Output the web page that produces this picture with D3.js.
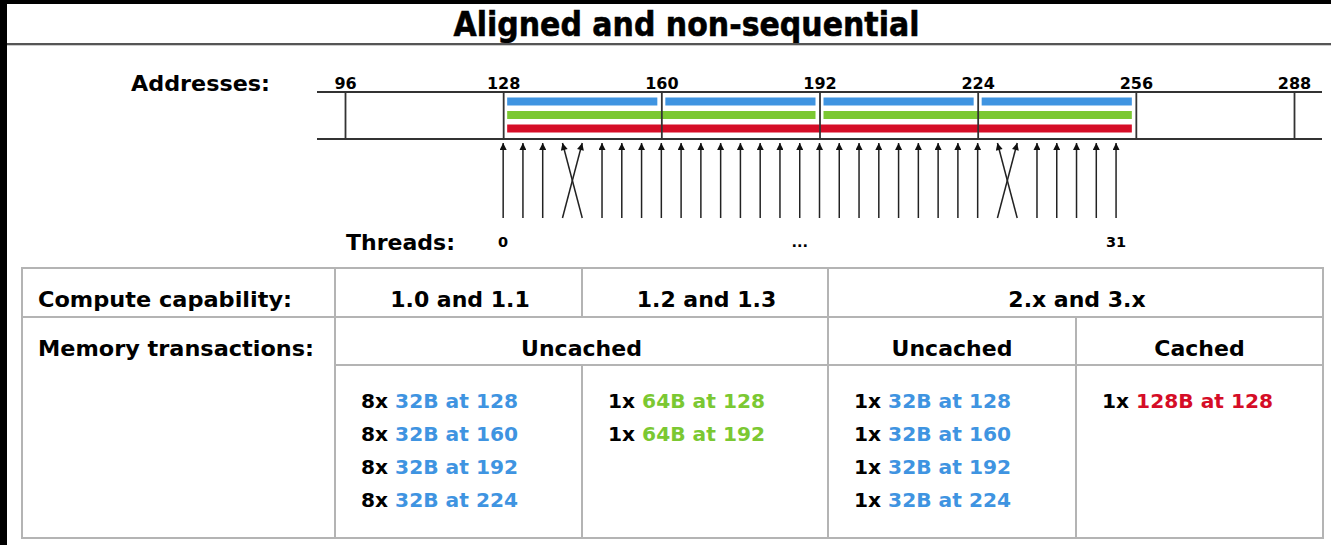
<!DOCTYPE html>
<html>
<head>
<meta charset="utf-8">
<script src="https://cdn.jsdelivr.net/npm/d3@7"></script>
<style>
  html, body { margin: 0; padding: 0; background: #fff; }
  svg { display: block; }
  text { font-family: "DejaVu Sans", Verdana, sans-serif; font-weight: bold; }
</style>
</head>
<body>
<svg id="chart" width="1331" height="545"></svg>
<script>
// ---------------- data ----------------
const title = "Aligned and non-sequential";
const addressTicks = [96, 128, 160, 192, 224, 256, 288];
const blueStarts = [128, 160, 192, 224];
const blueSize = 32;
const greenStarts = [128, 192];
const greenSize = 64;
const redStarts = [128];
const redSize = 128;
// address accessed by each of the 32 threads (3<->4 and 25<->26 swapped)
const threadAddr = [128, 132, 136, 144, 140, 148, 152, 156, 160, 164, 168, 172, 176, 180, 184, 188,
                    192, 196, 200, 204, 208, 212, 216, 220, 224, 232, 228, 236, 240, 244, 248, 252];
const threadLabelIdx = [0, 15, 31];
const threadLabelText = ["0", "...", "31"];

const rowLabels = ["Compute capability:", "Memory transactions:"];
const capabilityHeaders = ["1.0 and 1.1", "1.2 and 1.3", "2.x and 3.x"];
const cacheHeaders = ["Uncached", "Uncached", "Cached"];
const tx10Count = ["8x", "8x", "8x", "8x"];
const tx10Desc = ["32B at 128", "32B at 160", "32B at 192", "32B at 224"];
const tx12Count = ["1x", "1x"];
const tx12Desc = ["64B at 128", "64B at 192"];
const tx2uCount = ["1x", "1x", "1x", "1x"];
const tx2uDesc = ["32B at 128", "32B at 160", "32B at 192", "32B at 224"];
const tx2cCount = ["1x"];
const tx2cDesc = ["128B at 128"];

// ---------------- styles ----------------
const BLUE = "#3f94e1", GREEN = "#7bc832", RED = "#d50d27";
const sizeColor = { "32B": BLUE, "64B": GREEN, "128B": RED };
const LINE = "#333", GRID = "#b4b4b4";

const svg = d3.select("#chart");
function fit(sel, w) {
  sel.each(function () {
    const L = this.getComputedTextLength();
    if (Math.abs(L - w) / w > 0.01) d3.select(this).attr("textLength", w).attr("lengthAdjust", "spacingAndGlyphs");
  });
}

// frame
svg.append("rect").attr("x", 0).attr("y", 0).attr("width", 1331).attr("height", 545).attr("fill", "#fff");
svg.append("rect").attr("x", 0).attr("y", 0).attr("width", 7).attr("height", 545).attr("fill", "#000");
svg.append("rect").attr("x", 0).attr("y", 0).attr("width", 1331).attr("height", 4).attr("fill", "#000");

// title
const t = svg.append("text").attr("x", 686.5).attr("y", 36).attr("text-anchor", "middle")
  .attr("font-size", 34).attr("fill", "#000").attr("stroke", "#000").attr("stroke-width", 0.6).text(title);
fit(t, 466);
svg.append("line").attr("x1", 7).attr("x2", 1331).attr("y1", 44).attr("y2", 44)
  .attr("stroke", "#555").attr("stroke-width", 2);
svg.append("line").attr("x1", 7).attr("x2", 1331).attr("y1", 45.5).attr("y2", 45.5)
  .attr("stroke", "#ccc").attr("stroke-width", 1);

// ---------------- address diagram ----------------
const x = d3.scaleLinear().domain([96, 288]).range([345, 1294]);
const yTop = 92, yBot = 139;
const thread = d3.scaleLinear().domain([0, 31]).range([x(128), x(252)]);

const al = svg.append("text").attr("x", 131).attr("y", 91).attr("font-size", 21).text("Addresses:");
fit(al, 139);

// bars
function bars(starts, size, color, y) {
  svg.append("g").selectAll("rect").data(starts).join("rect")
    .attr("x", d => x(d) + 4)
    .attr("width", d => x(d + size) - x(d) - 8)
    .attr("y", y).attr("height", 8)
    .attr("fill", color);
}
bars(blueStarts, blueSize, BLUE, 97.5);
bars(greenStarts, greenSize, GREEN, 111);
bars(redStarts, redSize, RED, 124.5);

// horizontal axis lines
[yTop, yBot].forEach(yy => svg.append("line").attr("x1", 317).attr("x2", 1322).attr("y1", yy).attr("y2", yy)
  .attr("stroke", LINE).attr("stroke-width", 2));

// ticks & labels (d3 axis)
const axis = d3.axisTop(x).tickValues(addressTicks).tickSize(-(yBot - yTop)).tickPadding(3);
const ag = svg.append("g").attr("transform", `translate(0,${yTop})`).call(axis);
ag.select(".domain").remove();
ag.selectAll(".tick line").attr("stroke", LINE).attr("stroke-width", 1.8);
ag.selectAll(".tick text").attr("font-size", 16).attr("font-family", "DejaVu Sans, sans-serif")
  .attr("font-weight", "bold").attr("fill", "#000").attr("y", -3).attr("dy", 0);

// arrows
const defs = svg.append("defs");
defs.append("marker").attr("id", "ah").attr("viewBox", "0 0 10 10").attr("refX", 10).attr("refY", 5)
  .attr("markerUnits", "userSpaceOnUse").attr("markerWidth", 10).attr("markerHeight", 7)
  .attr("orient", "auto")
  .append("path").attr("d", "M0,0 L10,5 L0,10 Z").attr("fill", "#111");
svg.append("g").selectAll("line").data(threadAddr).join("line")
  .attr("x1", (d, i) => thread(i)).attr("y1", 218)
  .attr("x2", d => x(d)).attr("y2", 143)
  .attr("stroke", "#222").attr("stroke-width", 1.5)
  .attr("marker-end", "url(#ah)");

const tl = svg.append("text").attr("x", 346).attr("y", 250).attr("font-size", 22).text("Threads:");
fit(tl, 109);
svg.append("g").selectAll("text").data(threadLabelIdx).join("text")
  .attr("x", d => thread(d)).attr("y", 247).attr("text-anchor", "middle")
  .attr("font-size", 14.5).text((d, i) => threadLabelText[i]);

// ---------------- table ----------------
const colX = [22, 335, 582, 828, 1076, 1323];
const rowY = [268, 317, 365, 538];
const g = svg.append("g").attr("stroke", GRID).attr("stroke-width", 2);
g.append("rect").attr("x", colX[0]).attr("y", rowY[0]).attr("width", colX[5] - colX[0]).attr("height", rowY[3] - rowY[0]).attr("fill", "none");
g.append("line").attr("x1", colX[0]).attr("x2", colX[5]).attr("y1", rowY[1]).attr("y2", rowY[1]);
g.append("line").attr("x1", colX[1]).attr("x2", colX[5]).attr("y1", rowY[2]).attr("y2", rowY[2]);
g.append("line").attr("x1", colX[1]).attr("x2", colX[1]).attr("y1", rowY[0]).attr("y2", rowY[3]);
g.append("line").attr("x1", colX[3]).attr("x2", colX[3]).attr("y1", rowY[0]).attr("y2", rowY[3]);
g.append("line").attr("x1", colX[2]).attr("x2", colX[2]).attr("y1", rowY[0]).attr("y2", rowY[1]);
g.append("line").attr("x1", colX[2]).attr("x2", colX[2]).attr("y1", rowY[2]).attr("y2", rowY[3]);
g.append("line").attr("x1", colX[4]).attr("x2", colX[4]).attr("y1", rowY[1]).attr("y2", rowY[3]);

fit(svg.append("text").attr("x", 38).attr("y", 307).attr("font-size", 22).text(rowLabels[0]), 254);
fit(svg.append("text").attr("x", 38).attr("y", 356).attr("font-size", 22).text(rowLabels[1]), 276);

const capCenters = [(colX[1] + colX[2]) / 2, (colX[2] + colX[3]) / 2, (colX[3] + colX[5]) / 2];
svg.append("g").selectAll("text").data(capabilityHeaders).join("text")
  .attr("x", (d, i) => capCenters[i] + 1.5).attr("y", 307).attr("text-anchor", "middle")
  .attr("font-size", 22).text(d => d);
const cacheCenters = [(colX[1] + colX[3]) / 2, (colX[3] + colX[4]) / 2, (colX[4] + colX[5]) / 2];
svg.append("g").selectAll("text").data(cacheHeaders).join("text")
  .attr("x", (d, i) => cacheCenters[i]).attr("y", 356).attr("text-anchor", "middle")
  .attr("font-size", 22).text(d => d);

function txCell(counts, descs, left) {
  const lines = svg.append("g").selectAll("text").data(descs).join("text")
    .attr("x", left + 26).attr("y", (d, i) => 408 + i * 33).attr("font-size", 20.2);
  lines.append("tspan").attr("fill", "#000").text((d, i) => counts[i] + " ");
  lines.append("tspan").attr("fill", d => sizeColor[d.split(" ")[0]]).text(d => d);
}
txCell(tx10Count, tx10Desc, colX[1]);
txCell(tx12Count, tx12Desc, colX[2]);
txCell(tx2uCount, tx2uDesc, colX[3]);
txCell(tx2cCount, tx2cDesc, colX[4]);
</script>
</body>
</html>
